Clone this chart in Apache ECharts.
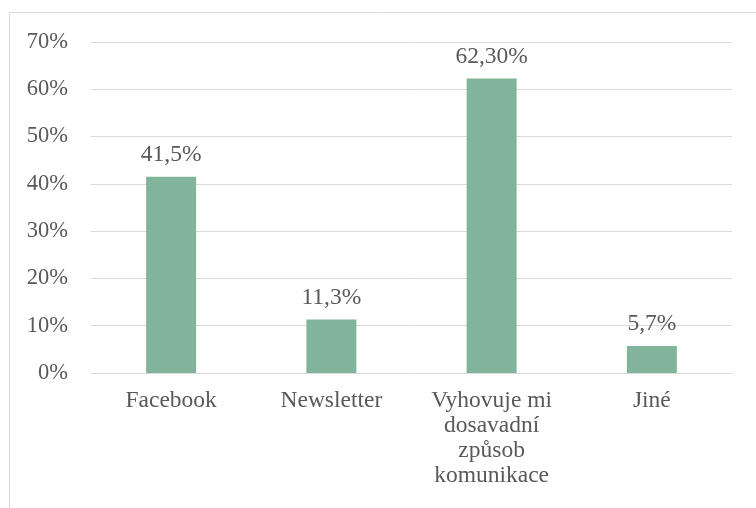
<!DOCTYPE html>
<html>
<head>
<meta charset="utf-8">
<script src="https://cdn.jsdelivr.net/npm/echarts@6/dist/echarts.min.js"></script>
<style>
  html, body { margin: 0; padding: 0; background: #fff; }
  #chart { width: 756px; height: 508px; }
</style>
</head>
<body>
<div id="chart"></div>
<script>
const categories = ["Facebook", "Newsletter", "Vyhovuje mi\ndosavadní\nzpůsob\nkomunikace", "Jiné"];
const values = [41.5, 11.3, 62.3, 5.7];
const valueLabels = ["41,5%", "11,3%", "62,30%", "5,7%"];

const textColor = "#595959";
const fontFamily = "'Liberation Serif', 'Times New Roman', serif";

const chart = echarts.init(document.getElementById("chart"));
chart.setOption({
  animation: false,
  grid: { left: 91, right: 24, top: 42, bottom: 135 },
  graphic: [
    {
      type: "polyline",
      shape: { points: [[9.5, 508], [9.5, 12.5], [756, 12.5]] },
      style: { stroke: "#d9d9d9", lineWidth: 1, fill: null }
    }
  ],
  xAxis: {
    type: "category",
    data: categories,
    axisLine: { show: true, lineStyle: { color: "#d9d9d9", width: 1 } },
    axisTick: { show: false },
    axisLabel: {
      color: textColor,
      fontFamily: fontFamily,
      fontSize: 23.5,
      lineHeight: 25,
      margin: 15,
      interval: 0
    }
  },
  yAxis: {
    type: "value",
    min: 0,
    max: 70,
    interval: 10,
    axisLine: { show: false },
    axisTick: { show: false },
    splitLine: { lineStyle: { color: "#d9d9d9", width: 1 } },
    axisLabel: {
      color: textColor,
      fontFamily: fontFamily,
      fontSize: 22.5,
      margin: 23,
      formatter: v => v + "%"
    }
  },
  series: [
    {
      type: "bar",
      data: values,
      barWidth: 50,
      itemStyle: { color: "#82b49b" },
      label: {
        show: true,
        position: "top",
        distance: 10,
        color: textColor,
        fontFamily: fontFamily,
        fontSize: 23.5,
        formatter: p => valueLabels[p.dataIndex]
      }
    }
  ]
});
</script>
</body>
</html>
